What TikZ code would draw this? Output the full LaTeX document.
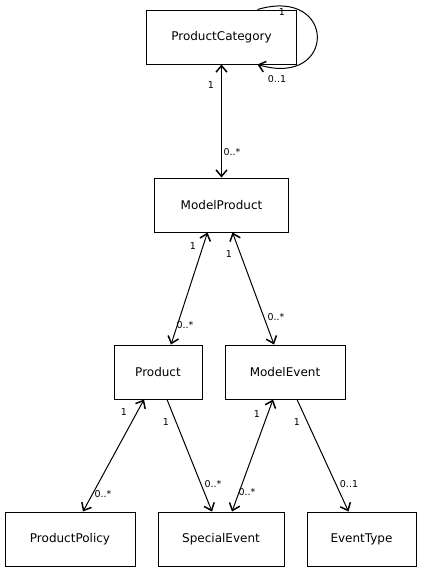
\documentclass[tikz,border=0pt]{standalone}
\usepackage{fontspec}
\setmainfont{DejaVu Sans}
\usetikzlibrary{arrows.meta}
\tikzset{>={Straight Barb[length=6.5pt,width=11pt,line width=1.5pt]}}
\tikzset{box/.style={draw, line width=1pt, minimum height=54pt, inner sep=0pt, font=\fontsize{12}{14}\selectfont}}
\tikzset{mult/.style={inner sep=0pt, font=\fontsize{9.5}{11}\selectfont}}
\tikzset{assoc/.style={line width=1pt}}

\begin{document}
\begin{tikzpicture}[x=1pt,y=-1pt]
				\useasboundingbox (0,0) rectangle (421,573);
				% classes
				\node [box, minimum width=150pt] (pc) at (221.5,37) {ProductCategory};
				\node [box, minimum width=134pt] (mp) at (221.5,205) {ModelProduct};
				\node [box, minimum width=88pt] (pr) at (158,372) {Product};
				\node [box, minimum width=120pt] (me) at (285,372) {ModelEvent};
				\node [box, minimum width=130pt] (pp) at (70,539) {ProductPolicy};
				\node [box, minimum width=126pt] (se) at (221,539) {SpecialEvent};
				\node [box, minimum width=109pt] (et) at (361.5,539) {EventType};
				
				% associations
				\draw [assoc, <->] (pc.south) -- (mp.north);
				\draw [assoc, ->] ([xshift=36pt]pc.north) .. controls (337,-14) and (337,88) .. ([xshift=36pt]pc.south);
				\draw [assoc, <->] ([xshift=-14pt]mp.south) -- ([xshift=13pt]pr.north);
				\draw [assoc, <->] ([xshift=11pt]mp.south) -- ([xshift=-11pt]me.north);
				\draw [assoc, <->] ([xshift=-14pt]pr.south) -- ([xshift=13pt]pp.north);
				\draw [assoc, ->] ([xshift=9pt]pr.south) -- ([xshift=-9pt]se.north);
				\draw [assoc, <->] ([xshift=-12pt]me.south) -- ([xshift=11pt]se.north);
				\draw [assoc, ->] ([xshift=12pt]me.south) -- ([xshift=-13pt]et.north);
				
				% multiplicities
				\node [mult] (m1) at (211,85) {1};
				\node [mult] (m2) at (232,152) {0..*};
				\node [mult] (m3) at (282,12) {1};
				\node [mult] (m4) at (277,79) {0..1};
				\node [mult] (m5) at (193,246) {1};
				\node [mult] (m6) at (185,325) {0..*};
				\node [mult] (m7) at (229,254) {1};
				\node [mult] (m8) at (276,317) {0..*};
				\node [mult] (m9) at (124,412) {1};
				\node [mult] (m10) at (103,494) {0..*};
				\node [mult] (m11) at (166,422) {1};
				\node [mult] (m12) at (213,484) {0..*};
				\node [mult] (m13) at (257,414) {1};
				\node [mult] (m14) at (247,492) {0..*};
				\node [mult] (m15) at (297,422) {1};
				\node [mult] (m16) at (349,484) {0..1};
\end{tikzpicture}
\end{document}
